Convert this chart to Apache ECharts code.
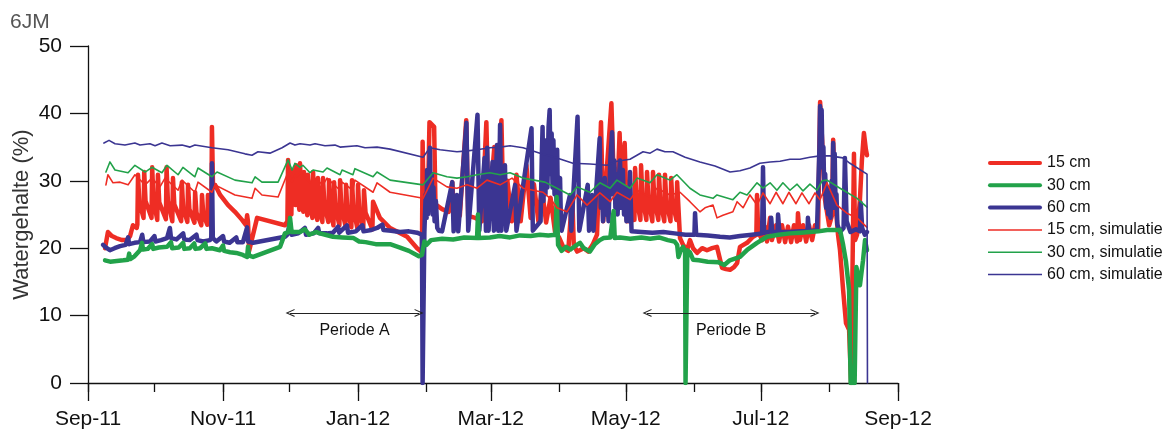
<!DOCTYPE html>
<html><head><meta charset="utf-8">
<script src="https://cdn.jsdelivr.net/npm/echarts@6/dist/echarts.min.js"></script>
<style>html,body{margin:0;padding:0;background:#fff}#c{width:1171px;height:435px}</style>
</head><body><div id="c"></div>
<script>
// ---- data (day offset from 2011-09-01, watergehalte %) ----
const startDate = '2011-09-01';
const endDate = '2012-09-01';
const monthTickDates = ['2011-09-01','2011-10-01','2011-11-01','2011-12-01','2012-01-01','2012-02-01','2012-03-01','2012-04-01','2012-05-01','2012-06-01','2012-07-01','2012-08-01','2012-09-01'];
const majorTickDates = ['2011-09-01','2011-11-01','2012-01-01','2012-03-01','2012-05-01','2012-07-01','2012-09-01'];
const xTickLabels = ['Sep-11','Nov-11','Jan-12','Mar-12','May-12','Jul-12','Sep-12'];
const seriesNames = ['15 cm','30 cm','60 cm','15 cm, simulatie','30 cm, simulatie','60 cm, simulatie'];

const meas15 = [[7.7,20.0],[9.0,22.4],[10.8,21.8],[12.7,21.5],[15.4,21.2],[17.6,21.2],[19.0,21.8],[20.3,23.4],[22.0,23.0],
[22.3,23.5],[22.6,30.9],[23.2,26.8],[25.1,24.5],[25.4,31.3],[26.0,27.0],[28.7,24.5],[29.0,32.0],[29.6,27.0],[31.3,24.2],[31.6,30.9],[32.2,26.8],[35.2,24.3],[35.5,32.0],[36.1,27.0],[38.1,24.0],[38.4,30.4],[39.0,26.5],[42.1,24.0],[42.4,29.8],[43.0,26.0],[44.9,23.9],[45.2,29.4],[45.8,25.8],[48.1,23.8],[48.4,28.3],[49.0,25.3],[51.2,23.4],[51.5,27.9],[52.1,25.0],[53.9,23.5],[54.2,27.9],[54.8,25.0],[55.7,23.0],
[56.0,38.0],[56.5,29.0],[57.4,29.4],[59.7,27.9],[63.3,26.4],[66.4,25.4],[69.6,24.2],[71.4,23.4],[71.9,24.9],[72.3,23.9],[72.8,19.6],[73.4,19.6],[76.4,24.5],[89.0,23.4],
[90.1,24.0],[90.4,33.1],[91.0,27.5],[91.9,25.0],[92.2,31.6],[92.8,27.8],[93.7,26.4],[94.0,32.3],[94.6,28.0],[95.5,25.7],[95.8,32.6],[96.4,28.0],[97.3,25.4],[97.6,31.3],[98.2,27.5],[99.1,24.9],[99.4,30.9],[100.0,27.0],[101.4,24.5],[101.7,31.3],[102.3,27.0],[103.6,24.2],[103.9,30.4],[104.5,26.6],[105.9,23.9],[106.2,30.4],[106.8,26.5],[108.6,23.9],[108.9,30.1],[109.5,26.2],[110.9,23.4],[111.2,29.8],[111.8,26.0],[113.6,23.4],[113.9,30.1],[114.5,26.0],[116.3,23.4],[116.6,29.4],[117.2,25.7],[119.0,23.1],[119.3,30.1],[119.9,25.8],[121.7,23.0],[122.0,29.4],[122.6,25.5],[124.4,23.0],[124.7,28.6],[125.4,25.3],[128.5,22.8],[128.8,26.9],[131.9,24.5],[136.5,23.0],[144.2,21.7],[148.7,20.0],[150.9,19.4],
[151.2,35.8],[151.8,24.5],[153.5,25.5],[154.3,38.7],[156.4,38.0],[157.0,26.5],[160,25.8],[163,25.4],[164.6,29.8],[165.4,25.0],[168,24.8],[170.9,39.0],[171.8,24.8],[175,24.5],[178,24.0],[180.0,38.7],[181,24.5],[183.6,35.0],[184.4,24.2],[186.8,39.0],[187.8,24.0],[189.5,30.0],[191.5,24.0],[193.6,30.9],[195.5,24.0],[198.1,32.3],[200,24.5],[201.5,29.5],[203.5,24.0],[205,29.0],[207,23.8],[209,27.5],[211,22.5],[213,21.5],[215,20.0],[217,19.6],[218.8,27.9],[219.5,20.5],[221,19.5],[224,20.0],[226,19.5],[228,20.5],[230,22.0],[231.8,38.7],[232.8,24.0],[236.5,41.5],[237.3,33.0],[238.2,30.0],[239.0,26.0],[240.2,37.1],[241.0,29.0],[242.5,35.6],[243.5,24.0],[246.9,24.2],
[247.2,31.9],[247.8,27.5],[249.6,24.2],[249.9,32.3],[250.5,27.6],[252.3,24.2],[252.6,31.3],[253.2,27.2],[255.0,24.0],[255.3,31.3],[255.9,27.2],[257.7,24.2],[258.0,30.9],[258.6,27.0],[260.4,24.0],[260.7,30.9],[261.3,27.0],[263.2,24.0],[263.5,30.4],[264.1,26.8],[265.9,24.2],[266.2,29.8],
[267.5,21.5],[268.9,20.5],[270.7,19.7],[272.0,21.2],[273.4,20.0],[275.2,19.3],[277.5,20.0],[279.7,19.7],[282.0,20.0],[284.2,20.2],[286.5,17.1],[288.3,16.9],[290.1,16.8],[291.9,17.2],[293.3,17.8],[294.6,20.2],[297.8,20.8],[300.5,21.7],[302.0,22.0],[302.3,27.9],[302.8,22.5],[304.6,21.2],[305.9,23.2],[306.8,21.0],[308.2,24.5],[309.0,21.2],[310.9,23.4],[312.3,21.0],[313.6,23.4],[315.0,20.9],[316.3,23.2],[317.7,20.9],[319.0,23.4],[320.4,21.0],[320.8,25.2],[321.7,21.2],[323.1,23.4],[324.5,21.0],[325.8,23.4],[327.2,21.2],[328.5,23.4],[329.9,22.7],[330.8,41.7],[331.7,36.1],[333.0,27.2],[334.9,23.4],[336.2,24.9],[336.7,36.1],[337.6,27.2],[338.9,22.0],[339.8,19.7],[341.2,13.8],[342.5,8.9],[343.9,7.9],[344.8,0],[345.7,0],[346.1,34.0],[346.6,21.2],[347.5,22.0],[348.8,27.2],[349.7,33.1],[350.6,37.1],[351.5,34.6],[352.0,33.8]];

const meas30 = [[7.7,18.2],[10,18.0],[13,18.1],[16,18.2],[18.1,18.3],[18.6,19.2],[19.1,18.4],[21,18.8],[23.5,19.7],[24.4,20.8],[24.9,19.8],[27,19.9],[29,20.6],[29.5,19.9],[32,20.1],[35.7,20.2],[37.5,20.9],[38,20.0],[41,20.1],[43,20.8],[43.5,19.9],[46,20.0],[48,20.7],[48.5,19.9],[50.6,20.0],[53,20.7],[53.5,19.9],[56,20.0],[59.6,19.7],[61,20.4],[61.5,19.6],[64.2,19.4],[67,19.3],[70,19.0],[71.9,18.7],[72.3,20.2],[72.8,18.9],[74.6,18.7],[86.8,20.2],[89.0,22.2],[90.6,22.4],[91.3,24.5],[92,22.4],[95.8,22.4],[98,22.8],[100,22.0],[103,22.4],[106,22.1],[110.7,21.7],[115,21.6],[120,21.5],[122.5,21.0],[125.4,20.9],[130,20.6],[136.5,20.6],[141,20.1],[145,19.6],[149.5,18.8],[150.9,19.0],[152.0,21.0],[153,20.5],[155,21.2],[160,21.4],[165,21.3],[170,21.6],[175.8,21.5],[176.2,25.0],[176.6,21.5],[181.6,21.6],[186,21.8],[190.7,21.6],[195.2,21.9],[200,21.8],[204.2,22.0],[208,21.9],[211.2,22.0],[211.8,27.6],[212.4,20.5],[214,19.6],[216,20.2],[218,19.8],[220,20.3],[222.3,20.8],[224,20.0],[226.8,19.5],[229,20.6],[231.3,21.2],[233,21.5],[236,21.6],[237.5,25.5],[238,21.5],[240.4,21.6],[245,21.4],[250,21.6],[254,21.4],[258,21.6],[262,21.2],[265,21.0],[266.2,20.5],[266.8,18.7],[268,19.8],[268.9,20.2],[269.8,19.5],[270.0,0],[270.4,0],[270.8,19.7],[272,19.4],[273.4,18.3],[276,18.2],[280,18.0],[285,17.9],[287.5,17.5],[290,18.2],[294.6,18.7],[298,19.8],[302.3,20.8],[306.8,21.7],[312,22.0],[317.2,22.2],[322,22.3],[326.2,22.4],[330,22.5],[334,22.7],[339.8,22.7],[341.2,20.5],[342.5,18.0],[343.9,13.8],[344.6,0],[346.4,0],[347.2,17.2],[348.8,14.5],[350.2,18.2],[351.1,21.2],[352.0,19.7]];

const meas60 = [[6.8,20.5],[8.5,20.0],[9.9,19.7],[12,20.0],[14.5,20.3],[17,20.5],[18.1,21.6],[18.6,20.6],[21,20.8],[23.5,20.9],[24.5,22.0],[25,20.9],[28,21.0],[30,21.8],[30.5,21.0],[33,21.2],[35.7,21.5],[37,23.0],[37.5,21.5],[40,21.3],[43,22.2],[43.5,21.3],[46,21.2],[49,22.0],[49.5,21.2],[52,21.0],[55.1,21.2],[55.7,21.5],[56.0,32.6],[56.4,21.5],[58,21.0],[61,21.8],[61.5,21.0],[64,20.8],[67,21.6],[67.5,20.9],[70,20.9],[71.9,23.1],[72.3,21.0],[74.6,20.8],[89.0,21.7],[90,22.0],[91.3,23.7],[92,22.0],[95,22.2],[98,23.0],[98.5,22.0],[102,22.2],[104,23.0],[104.5,22.2],[108,22.2],[110.7,22.3],[113,23.2],[113.5,22.3],[117.0,23.4],[117.5,22.3],[121,22.5],[124,23.4],[124.5,22.5],[128,22.7],[130.6,23.0],[133,23.5],[133.5,22.7],[137,22.6],[141,22.4],[145,22.5],[148.7,22.3],[150.9,22.0],[151.2,0],[151.6,0],
[152.0,22.5],[152.6,28.0],[153.0,24.5],[153.2,31.6],[153.6,25.0],[154.0,30.0],[154.5,34.9],[154.9,26.0],[155.3,31.0],[155.7,25.0],[156.1,29.0],[156.6,24.0],[157.2,27.0],[157.8,23.0],[158.5,22.6],
[160,22.5],[164.6,29.8],[165.2,22.5],[166.7,27.9],[167.3,22.5],[171.0,38.6],[171.8,22.6],[176.0,39.8],[176.8,22.6],[179.2,33.4],[179.8,22.6],[180.4,34.9],[181.0,22.6],[182.8,32.8],[183.4,22.6],[184.8,35.3],[185.4,22.6],[186.2,38.3],[186.8,22.6],[188.4,32.3],[189.0,22.6],[193.0,29.4],[193.6,22.6],[200.4,37.8],[201.0,22.6],
[204.5,24.0],[205.0,33.0],[205.4,38.0],[205.8,27.0],[206.3,35.0],[206.7,28.0],[207.2,36.0],[207.6,29.0],[208.1,38.0],[208.6,40.5],[209.0,31.0],[209.5,37.0],[209.9,29.0],[210.3,36.0],[210.8,28.0],[211.3,33.0],[211.7,27.0],[212.0,34.6],[212.4,25.0],[212.9,30.0],[213.3,30.4],[213.7,24.0],[214.0,22.6],
[217.8,27.9],[218.4,22.6],[221.2,39.5],[222.0,22.6],[225.8,29.4],[226.4,22.6],[227.8,27.9],[228.4,22.6],
[231.2,36.3],[231.7,26.0],[232.2,30.0],[232.7,24.0],[233.5,30.4],[234.0,25.0],[234.6,28.0],[235.2,24.0],[236.0,33.0],[236.8,37.2],[237.3,28.0],[237.8,33.0],[238.3,26.0],[238.8,31.0],[239.3,25.0],[239.8,30.0],[240.4,33.0],[240.9,26.0],[241.3,30.0],[241.7,31.6],[242.2,25.0],[242.8,29.0],[243.3,24.0],[244.0,28.0],[244.5,24.0],[244.9,31.3],[245.6,22.5],
[250,22.4],[255,22.3],[260,22.4],[265,22.2],[270,22.0],[274.0,22.0],[274.3,25.2],[274.8,22.0],[280,21.9],[285.6,21.7],[290,21.6],[294.6,21.8],[300,22.0],[304.6,22.2],[305.0,32.0],[305.5,22.3],[308.4,22.5],[308.7,24.5],[309.2,22.4],[311.6,22.4],[311.8,25.0],[312.4,22.4],[317,22.4],[322,22.5],[325.1,22.5],[325.3,24.5],[325.8,22.5],
[329.4,22.7],[330.5,35.0],[330.8,41.1],[331.2,38.0],[331.5,40.5],[331.9,32.0],[332.3,35.0],[332.7,28.0],[333.1,31.0],[333.5,26.0],[334.0,29.0],[334.5,25.0],[335.0,28.0],[335.5,24.5],[336.0,30.0],[336.4,26.0],[336.7,35.6],[337.1,30.0],[337.4,34.0],[337.8,26.0],[338.2,28.0],[338.6,23.5],[339.8,22.4],
[341.4,23.0],[342.0,33.4],[342.8,24.0],[344.5,22.4],[347,22.8],[348.8,22.5],[349.2,26.7],[349.8,23.0],[351,22.0],[352.0,22.4]];

const sim15 = [[8.1,29.4],[9.0,30.9],[11.3,29.7],[14.5,29.8],[18.1,29.4],[21.2,30.9],[25.8,29.4],[28.9,30.4],[32.5,29.1],[34.8,30.4],[40.7,28.6],[42.5,30.1],[48.3,28.3],[49.7,29.8],[56.0,28.3],[57.4,29.4],[66.4,27.9],[74.1,27.4],[75.5,28.9],[78.6,27.9],[85.9,27.6],[90.4,31.3],[92.2,29.8],[93.5,30.9],[94.4,30.6],[95.8,31.2],[100.3,29.7],[101.7,30.6],[106.2,29.4],[108.0,30.4],[113.9,28.6],[114.8,29.8],[119.7,28.6],[120.6,30.1],[128.8,28.3],[130.6,29.7],[136.5,28.3],[151.4,27.4],[155.9,30.4],[162.2,29.1],[166.7,28.9],[171.3,29.4],[175.8,28.9],[180.3,30.1],[186.2,29.4],[191.6,30.4],[196.6,28.9],[205.6,28.3],[208.8,27.4],[211.9,26.0],[216.4,25.4],[221.0,27.9],[225.5,26.4],[231.3,28.2],[235.9,26.9],[239.0,28.3],[244.9,27.2],[248.1,28.6],[253.9,27.6],[257.1,28.9],[263.0,27.9],[267.5,28.3],[272.0,26.9],[276.5,25.4],[278.8,26.0],[282.4,26.4],[284.2,24.5],[286.9,24.9],[291.4,25.4],[293.3,26.9],[296.0,26.0],[299.1,27.9],[302.3,26.4],[305.0,28.2],[308.2,26.6],[310.9,28.3],[314.0,26.6],[316.7,28.3],[319.9,26.6],[322.6,28.2],[325.8,26.6],[328.5,28.2],[330.8,27.2],[333.9,29.7],[338.4,26.4],[342.9,25.2],[347.5,24.5],[352.0,23.1]];

const sim30 = [[8.1,31.3],[9.9,32.8],[12.2,31.6],[18.1,31.2],[21.2,32.3],[25.8,31.3],[28.9,32.0],[33.4,31.2],[35.7,32.3],[40.7,30.9],[42.9,32.0],[48.3,30.6],[49.7,31.9],[56.0,30.6],[58.3,31.3],[66.4,30.1],[74.1,29.7],[75.5,30.6],[78.6,29.8],[85.9,29.8],[90.4,33.1],[92.2,31.6],[93.5,32.6],[95.8,32.0],[97.1,32.3],[100.3,31.2],[101.7,31.6],[106.2,31.3],[108.0,31.9],[113.9,30.9],[114.8,31.6],[119.7,30.9],[120.6,31.8],[128.8,30.6],[130.6,31.3],[136.5,30.1],[151.4,29.4],[155.9,31.2],[162.2,30.6],[166.7,30.4],[171.3,30.6],[175.8,30.9],[181.6,31.2],[186.2,30.9],[190.7,31.2],[196.6,30.4],[206.5,29.8],[211.9,28.9],[217.8,27.9],[221.0,29.1],[226.8,28.3],[231.3,29.7],[235.9,28.9],[239.0,30.1],[244.9,28.9],[248.1,30.4],[253.9,29.7],[257.1,30.9],[263.0,30.1],[266.1,30.9],[272.0,28.9],[276.5,27.9],[282.4,27.4],[284.2,27.9],[291.4,27.2],[294.6,28.3],[297.8,27.9],[302.3,29.7],[305.0,28.9],[308.2,29.7],[311.3,28.6],[314.0,29.7],[317.2,28.6],[320.4,29.5],[323.1,28.5],[326.2,29.5],[329.4,28.6],[331.7,30.0],[333.9,30.1],[339.8,28.9],[347.5,27.4],[352.0,26.1]];

const sim60 = [[7.2,35.6],[9.5,36.0],[12.2,35.5],[16.7,35.3],[21.2,35.6],[23.5,35.3],[28.0,35.5],[30.3,35.2],[33.4,35.6],[37.1,35.2],[42.5,35.3],[46.1,35.0],[48.3,35.3],[56.0,34.9],[63.3,34.6],[70.9,34.0],[74.1,33.8],[76.8,34.3],[82.2,34.1],[87.7,34.9],[91.3,35.6],[93.5,35.3],[95.8,35.5],[100.3,35.3],[102.6,35.5],[107.1,35.2],[111.6,35.3],[113.9,35.0],[121.5,35.2],[125.2,34.9],[130.6,35.0],[136.5,34.7],[151.4,33.5],[154.5,34.9],[159.1,34.6],[166.7,34.3],[170.3,34.4],[175.8,34.6],[181.6,34.9],[186.2,35.0],[190.7,35.2],[196.6,34.9],[204.2,34.1],[211.9,33.4],[219.1,32.6],[226.8,32.5],[234.5,32.3],[239.0,32.9],[244.9,33.2],[250.8,34.3],[254.0,34.1],[257.1,34.7],[260.7,34.3],[264.3,34.3],[269.8,33.5],[276.5,32.8],[283.3,32.2],[290.1,31.3],[294.6,31.5],[299.1,31.9],[303.6,32.6],[308.2,32.8],[312.7,32.9],[317.2,33.2],[321.7,33.2],[326.2,33.5],[330.8,33.7],[335.3,33.7],[341.1,33.4],[344.3,32.6],[352.0,31.0],[352.2,0]];

const periodNames = ['Periode A','Periode B'];
const periodStart = [91.3, 252.6];
const periodEnd = [149.6, 328.5];
const periodLevel = [10.4, 10.4];

// ---- helpers ----
const DAY = 86400000;
function toMs(s){const p=s.split('-').map(Number);return Date.UTC(p[0],p[1]-1,p[2]);}
const t0 = toMs(startDate);
const t1 = toMs(endDate);
const dayMs = d => t0 + d*DAY;
const conv = arr => arr.map(p => [dayMs(p[0]), p[1]]);
const monthMs = monthTickDates.map(toMs);
const majorMs = majorTickDates.map(toMs);

const RED='#EE2D24', GREEN='#22A24A', BLUE='#3B3592';
const COLORS=[RED,GREEN,BLUE,RED,GREEN,BLUE];
const FONT='"Liberation Sans", Arial, sans-serif';
const chev = 'path://M0,10 L5,0 L10,10 L8.6,10 L5,2.8 L1.4,10 Z';
const thickIcon = 'path://M2,0 L52,0 A2,2 0 0 1 52,4 L2,4 A2,2 0 0 1 2,0 Z';
const thinIcon = 'path://M0,0 L54,0 L54,1.5 L0,1.5 Z';

function mk(name, data, color, width, z){
  return {name, type:'line', data:conv(data), symbol:'none', showSymbol:false, z,
    lineStyle:{color, width, join:'round', cap:'round'}, itemStyle:{color},
    emphasis:{disabled:true}, silent:true, animation:false};
}
const series = [
  mk(seriesNames[0], meas15, RED, 4.5, 2),
  mk(seriesNames[1], meas30, GREEN, 4.5, 4),
  mk(seriesNames[2], meas60, BLUE, 4.5, 3),
  mk(seriesNames[3], sim15, RED, 1.6, 5),
  mk(seriesNames[4], sim30, GREEN, 1.6, 5),
  mk(seriesNames[5], sim60, BLUE, 1.6, 5)
];
series[5].markLine = {
  silent:true, symbol:[chev, chev], symbolSize:[8,9],
  lineStyle:{color:'#222', width:1, type:'solid'},
  label:{show:true, position:'insideMiddleBottom', formatter:'{b}', color:'#111', fontSize:16, fontFamily:FONT, distance:10},
  emphasis:{disabled:true},
  data: periodNames.map((n,i)=>[{name:n, coord:[dayMs(periodStart[i]), periodLevel[i]]},{coord:[dayMs(periodEnd[i]), periodLevel[i]]}])
};

function labelFor(v){let bi=-1,bd=1e18;majorMs.forEach((m,i)=>{const d=Math.abs(m-v);if(d<bd){bd=d;bi=i;}});return bd<DAY?xTickLabels[bi]:'';}

const chart = echarts.init(document.getElementById('c'), null, {renderer:'canvas'});
chart.setOption({
  animation:false,
  backgroundColor:'#fff',
  textStyle:{fontFamily:FONT},
  title:{text:'6JM', left:5, top:7, textStyle:{fontSize:21, fontWeight:'normal', color:'#555', fontFamily:FONT}},
  grid:{left:88, right:273, top:46, bottom:52, containLabel:false},
  legend:{orient:'vertical', left:983, top:150, itemWidth:54, itemHeight:14, itemGap:6.3, selectedMode:false,
    textStyle:{fontSize:16, color:'#111', fontFamily:FONT},
    data: seriesNames.map((n,i)=>({name:n, icon: i<3 ? thickIcon : thinIcon, itemStyle:{color:COLORS[i], borderWidth:0}}))},
  xAxis:[
    {type:'value', min:t0, max:t1, scale:true,
      axisLine:{show:true, lineStyle:{color:'#111', width:1.3}},
      axisTick:{show:true, customValues:monthMs, length:9, lineStyle:{color:'#111', width:1.3}},
      axisLabel:{show:false}, splitLine:{show:false}},
    {type:'value', min:t0, max:t1, scale:true, position:'bottom',
      axisLine:{show:false},
      axisTick:{show:true, customValues:majorMs, length:18, lineStyle:{color:'#111', width:1.3}},
      axisLabel:{show:true, customValues:majorMs, margin:26, fontSize:21, color:'#111', fontFamily:FONT, formatter:labelFor},
      splitLine:{show:false}}
  ],
  yAxis:{type:'value', min:0, max:50, interval:10,
    name:'Watergehalte (%)', nameLocation:'middle', nameGap:55, nameMoveOverlap:false,
    nameTextStyle:{fontSize:22, color:'#333', fontFamily:FONT},
    axisLine:{show:true, lineStyle:{color:'#111', width:1.3}},
    axisTick:{show:true, length:18, lineStyle:{color:'#111', width:1.3}},
    axisLabel:{margin:26, fontSize:21, color:'#111', fontFamily:FONT},
    splitLine:{show:false}},
  series
});
</script>
</body></html>
